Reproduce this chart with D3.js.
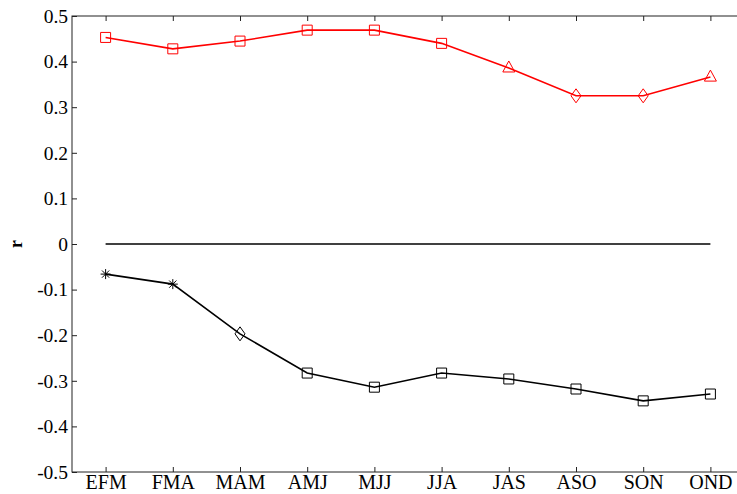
<!DOCTYPE html>
<html>
<head>
<meta charset="utf-8">
<script src="https://cdn.jsdelivr.net/npm/d3@7"></script>
<style>
  body { margin: 0; background: #fff; }
</style>
</head>
<body>
<svg id="chart" width="737" height="494"></svg>
<script>
const seasons = ['EFM', 'FMA', 'MAM', 'AMJ', 'MJJ', 'JJA', 'JAS', 'ASO', 'SON', 'OND'];
const redValues = [0.453, 0.428, 0.445, 0.469, 0.469, 0.44, 0.386, 0.325, 0.325, 0.366];
const redMarkers = ['square', 'square', 'square', 'square', 'square', 'square', 'triangle', 'diamond', 'diamond', 'triangle'];
const blackValues = [-0.066, -0.088, -0.197, -0.283, -0.314, -0.283, -0.296, -0.318, -0.344, -0.329];
const blackMarkers = ['star', 'star', 'diamond', 'square', 'square', 'square', 'square', 'square', 'square', 'square'];
const yTicks = [0.5, 0.4, 0.3, 0.2, 0.1, 0, -0.1, -0.2, -0.3, -0.4, -0.5];

const FONT = '"Liberation Serif", "DejaVu Serif", "Times New Roman", serif';
const svg = d3.select('#chart').attr('font-family', FONT);
const plotLeft = 72, plotTop = 16, plotRight = 744, plotBottom = 472;

const x = d3.scalePoint().domain(seasons).range([plotLeft, plotRight]).padding(0.5);
const y = d3.scaleLinear().domain([-0.5, 0.5]).range([plotBottom, plotTop]);

// frame
svg.append('rect')
  .attr('x', plotLeft).attr('y', plotTop)
  .attr('width', plotRight - plotLeft).attr('height', plotBottom - plotTop)
  .attr('fill', 'none').attr('stroke', '#222').attr('stroke-width', 1);

// y axis (ticks inside)
const fmt = d => d === 0 ? '0' : d.toFixed(1);
const yAxis = svg.append('g')
  .attr('transform', `translate(${plotLeft},0)`)
  .call(d3.axisRight(y).tickValues(yTicks).tickSize(5).tickFormat(fmt));
yAxis.attr('font-family', FONT);
yAxis.select('.domain').remove();
yAxis.selectAll('line').attr('stroke', '#222');
yAxis.selectAll('text')
  .attr('x', -4).attr('text-anchor', 'end')
  .attr('font-size', 19.5).attr('fill', '#000');

// x axis (ticks inside, bottom and top)
const xAxis = svg.append('g')
  .attr('transform', `translate(0,${plotBottom})`)
  .call(d3.axisTop(x).tickSize(5));
xAxis.attr('font-family', FONT);
xAxis.select('.domain').remove();
xAxis.selectAll('line').attr('stroke', '#222');
xAxis.selectAll('text')
  .attr('y', 17).attr('dy', '0')
  .attr('font-size', 20).attr('fill', '#000');

const xTop = svg.append('g')
  .attr('transform', `translate(0,${plotTop})`)
  .call(d3.axisBottom(x).tickSize(5).tickFormat(''));
xTop.select('.domain').remove();
xTop.selectAll('line').attr('stroke', '#222');

// y label
svg.append('text')
  .attr('transform', `translate(22,${y(0)}) rotate(-90)`)
  .attr('text-anchor', 'middle')
  .attr('font-size', 18).attr('font-weight', 'bold')
  .text('r');

// zero line
svg.append('line')
  .attr('x1', x(seasons[0])).attr('x2', x(seasons[seasons.length - 1]))
  .attr('y1', y(0)).attr('y2', y(0))
  .attr('stroke', '#000').attr('stroke-width', 1.5);

const line = d3.line().x((d, i) => x(seasons[i])).y(d => y(d));

function markerPath(type) {
  const s = 5;
  if (type === 'square') return `M${-s},${-s}H${s}V${s}H${-s}Z`;
  if (type === 'diamond') return `M0,${-7}L${s},0L0,${7}L${-s},0Z`;
  if (type === 'triangle') return `M0,${-7}L${6},${4}H${-6}Z`;
  // star: asterisk
  return `M-5,0H5M0,-5V5M-3.6,-3.6L3.6,3.6M-3.6,3.6L3.6,-3.6`;
}

function drawSeries(values, markers, color) {
  svg.append('path')
    .datum(values)
    .attr('d', line)
    .attr('fill', 'none')
    .attr('stroke', color).attr('stroke-width', 1.6);
  svg.append('g')
    .selectAll('path')
    .data(values)
    .join('path')
    .attr('transform', (d, i) => `translate(${x(seasons[i])},${y(d)})`)
    .attr('d', (d, i) => markerPath(markers[i]))
    .attr('fill', 'none')
    .attr('stroke', color).attr('stroke-width', 1);
}

drawSeries(redValues, redMarkers, '#ff0000');
drawSeries(blackValues, blackMarkers, '#000');
</script>
</body>
</html>
